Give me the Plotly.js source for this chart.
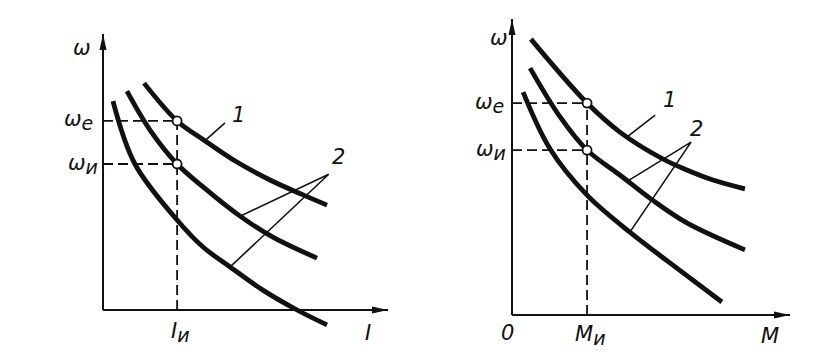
<!DOCTYPE html>
<html><head><meta charset="utf-8">
<script src="https://cdn.plot.ly/plotly-3.0.1.min.js"></script>
<style>html,body{margin:0;padding:0;background:#fff}#chart{width:830px;height:362px}</style>
</head><body><div id="chart"></div>
<script>
// ---------- Left panel: ω(I) ----------
const L1x = [1.44, 2.60, 3.51, 4.70, 5.86, 7.02, 7.86];
const L1y = [8.22, 6.85, 6.18, 5.36, 4.71, 4.17, 3.80];
const L2x = [0.84, 1.65, 2.60, 3.51, 4.81, 5.96, 7.51];
const L2y = [7.93, 6.52, 5.29, 4.46, 3.40, 2.64, 1.88];
const L3x = [0.35, 1.12, 2.60, 3.51, 4.46, 5.61, 6.81, 7.86];
const L3y = [7.57, 5.29, 3.26, 2.28, 1.56, 0.72, 0.0, -0.54];
const LopX = 2.60, LwE = 6.85, LwN = 5.29;
const Llead1x = [3.58, 4.28], Llead1y = [6.14, 6.78];
const Llead2x = [4.81, 7.92, 4.46], Llead2y = [3.40, 4.92, 1.56];

// ---------- Right panel: ω(M) ----------
const R1x = [0.68, 2.70, 3.88, 5.43, 6.29, 7.23, 8.38];
const R1y = [9.32, 7.16, 6.18, 5.27, 4.90, 4.56, 4.26];
const R2x = [0.65, 1.73, 2.70, 3.88, 5.04, 6.29, 8.38];
const R2y = [8.34, 6.69, 5.57, 4.73, 3.89, 3.11, 2.20];
const R3x = [0.40, 1.37, 2.70, 4.24, 5.68, 7.55];
const R3y = [7.53, 5.61, 4.05, 2.80, 1.76, 0.44];
const RopX = 2.70, RwE = 7.16, RwN = 5.57;
const Rlead1x = [4.14, 5.15], Rlead1y = [6.02, 6.75];
const Rlead2x = [4.17, 6.44, 4.24], Rlead2y = [4.53, 5.84, 2.80];

// ---------- Labels ----------
const SUB = s => '<sub><span style="font-size:19px">' + s + '</span></sub>';
const leftLabels = [
  {t:'ω', x:-0.72, y:9.49, a:'center'},
  {t:'ω' + SUB('e'), x:-0.28, y:6.85, a:'right'},
  {t:'ω' + SUB('и'), x:-0.12, y:5.29, a:'right'},
  {t:'I' + SUB('и'), x:2.72, y:-0.80, a:'center'},
  {t:'I', x:9.30, y:-0.85, a:'center'},
  {t:'1', x:4.74, y:7.05, a:'center'},
  {t:'2', x:8.25, y:5.55, a:'center'}
];
const rightLabels = [
  {t:'ω', x:-0.45, y:9.36, a:'center'},
  {t:'ω' + SUB('e'), x:-0.22, y:7.16, a:'right'},
  {t:'ω' + SUB('и'), x:-0.15, y:5.57, a:'right'},
  {t:'0', x:-0.18, y:-0.62, a:'center'},
  {t:'M' + SUB('и'), x:2.80, y:-0.68, a:'center'},
  {t:'M', x:9.28, y:-0.72, a:'center'},
  {t:'1', x:5.68, y:7.26, a:'center'},
  {t:'2', x:6.65, y:6.28, a:'center'}
];

const K = '#111';
function curve(x, y, xa, ya) {
  return {x, y, xaxis:xa, yaxis:ya, mode:'lines', line:{color:K, width:4.8, shape:'spline', smoothing:1}, hoverinfo:'skip'};
}
function thin(x, y, xa, ya, dash, w) {
  return {x, y, xaxis:xa, yaxis:ya, mode:'lines', line:{color:K, width:w, dash:dash}, hoverinfo:'skip'};
}
function panel(c1x,c1y,c2x,c2y,c3x,c3y,opX,wE,wN,l1x,l1y,l2x,l2y,xa,ya){
  return [
    curve(c1x,c1y,xa,ya), curve(c2x,c2y,xa,ya), curve(c3x,c3y,xa,ya),
    thin([0,opX],[wE,wE],xa,ya,'10px,5px',1.8),
    thin([0,opX],[wN,wN],xa,ya,'10px,5px',1.8),
    thin([opX,opX],[0,wE],xa,ya,'10px,5px',1.8),
    thin(l1x,l1y,xa,ya,'solid',1.6),
    thin(l2x,l2y,xa,ya,'solid',1.6),
    {x:[opX,opX], y:[wE,wN], xaxis:xa, yaxis:ya, mode:'markers', cliponaxis:false,
     marker:{size:9, color:'#fff', line:{color:K, width:1.8}}, hoverinfo:'skip'}
  ];
}
const data = [].concat(
  panel(L1x,L1y,L2x,L2y,L3x,L3y,LopX,LwE,LwN,Llead1x,Llead1y,Llead2x,Llead2y,'x','y'),
  panel(R1x,R1y,R2x,R2y,R3x,R3y,RopX,RwE,RwN,Rlead1x,Rlead1y,Rlead2x,Rlead2y,'x2','y2')
);

function axisShapes(xr, yr) {
  return [
    {type:'line', xref:xr, yref:yr, x0:0, y0:0, x1:10, y1:0, line:{color:K, width:2}},
    {type:'line', xref:xr, yref:yr, x0:0, y0:0, x1:0, y1:10, line:{color:K, width:2}},
    {type:'path', xref:xr, yref:yr, xsizemode:'pixel', ysizemode:'pixel', xanchor:0, yanchor:10,
     path:'M0,0 L-3.5,-16 L3.5,-16 Z', fillcolor:K, line:{width:0}},
    {type:'path', xref:xr, yref:yr, xsizemode:'pixel', ysizemode:'pixel', xanchor:10, yanchor:0,
     path:'M0,0 L-16,3.5 L-16,-3.5 Z', fillcolor:K, line:{width:0}}
  ];
}
function ann(list, xr, yr) {
  return list.map(l => ({text:l.t, x:l.x, y:l.y, xref:xr, yref:yr, showarrow:false,
    xanchor:l.a, yanchor:'middle',
    font:{family:'DejaVu Sans', size:21, style:'italic', color:K}}));
}

const layout = {
  width:830, height:362, margin:{l:0,r:0,t:0,b:0},
  paper_bgcolor:'#fff', plot_bgcolor:'#fff', showlegend:false,
  xaxis:{domain:[0,0.5], range:[-103/28.5, 312/28.5], visible:false, fixedrange:true},
  yaxis:{domain:[0,1], range:[-52/27.6, 310/27.6], visible:false, fixedrange:true},
  xaxis2:{domain:[0.5,1], range:[-97/27.8, 318/27.8], visible:false, anchor:'y2', fixedrange:true},
  yaxis2:{domain:[0,1], range:[-47/29.6, 315/29.6], visible:false, anchor:'x2', fixedrange:true},
  shapes:[].concat(axisShapes('x','y'), axisShapes('x2','y2')),
  annotations:[].concat(ann(leftLabels,'x','y'), ann(rightLabels,'x2','y2'))
};
Plotly.newPlot('chart', data, layout, {staticPlot:true, displayModeBar:false});
</script></body></html>
